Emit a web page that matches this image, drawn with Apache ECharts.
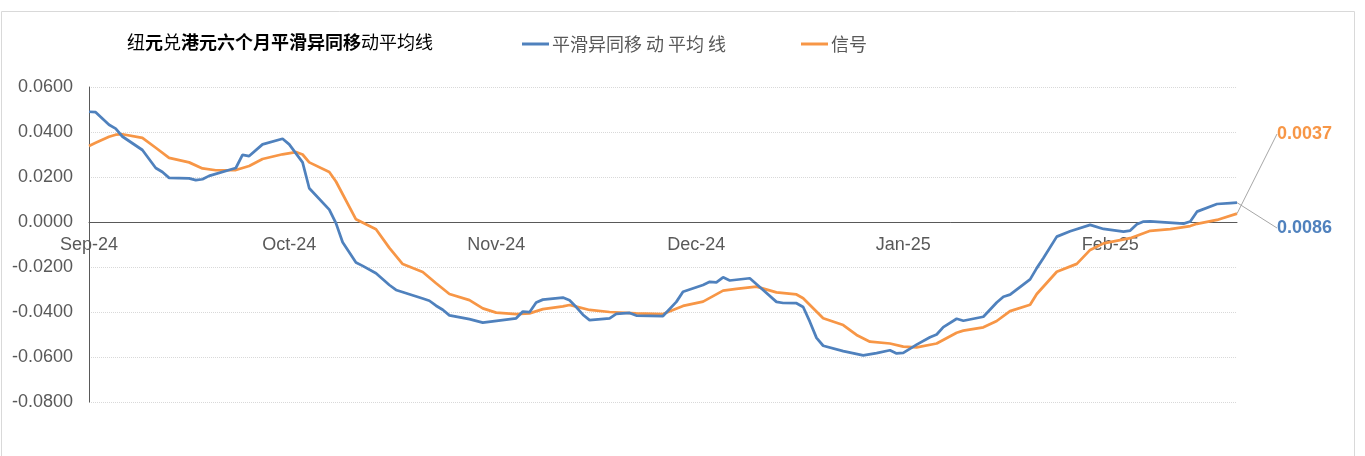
<!DOCTYPE html>
<html>
<head>
<meta charset="utf-8">
<script src="https://cdn.jsdelivr.net/npm/echarts@6/dist/echarts.min.js"></script>
<style>
html, body { margin: 0; padding: 0; background: #fff; }
#main { width: 1365px; height: 456px; }
</style>
</head>
<body>
<div id="main"></div>
<script>
let monthNames = ['Jan', 'Feb', 'Mar', 'Apr', 'May', 'Jun', 'Jul', 'Aug', 'Sep', 'Oct', 'Nov', 'Dec'];
let yTicks = [-0.08, -0.06, -0.04, -0.02, 0, 0.02, 0.04, 0.06];

// 平滑异同移动平均线 (blue)
let macdDates = [
	'2024-09-01', '2024-09-02', '2024-09-04', '2024-09-05', '2024-09-06', '2024-09-09', '2024-09-11', '2024-09-12',
	'2024-09-13', '2024-09-16', '2024-09-17', '2024-09-18', '2024-09-19', '2024-09-23', '2024-09-24', '2024-09-25',
	'2024-09-27', '2024-09-30', '2024-10-01', '2024-10-03', '2024-10-04', '2024-10-07', '2024-10-08', '2024-10-09',
	'2024-10-11', '2024-10-12', '2024-10-14', '2024-10-16', '2024-10-17', '2024-10-21', '2024-10-22', '2024-10-23',
	'2024-10-24', '2024-10-25', '2024-10-28', '2024-10-30', '2024-11-04', '2024-11-05', '2024-11-06', '2024-11-07',
	'2024-11-08', '2024-11-11', '2024-11-12', '2024-11-13', '2024-11-14', '2024-11-15', '2024-11-18', '2024-11-19',
	'2024-11-21', '2024-11-22', '2024-11-26', '2024-11-28', '2024-11-29', '2024-12-02', '2024-12-03', '2024-12-04',
	'2024-12-05', '2024-12-06', '2024-12-09', '2024-12-11', '2024-12-13', '2024-12-14', '2024-12-16', '2024-12-17',
	'2024-12-18', '2024-12-19', '2024-12-20', '2024-12-23', '2024-12-26', '2024-12-28', '2024-12-30', '2024-12-31',
	'2025-01-01', '2025-01-03', '2025-01-05', '2025-01-06', '2025-01-07', '2025-01-09', '2025-01-10', '2025-01-13',
	'2025-01-15', '2025-01-16', '2025-01-17', '2025-01-20', '2025-01-21', '2025-01-22', '2025-01-24', '2025-01-26',
	'2025-01-29', '2025-01-31', '2025-02-03', '2025-02-04', '2025-02-05', '2025-02-06', '2025-02-07', '2025-02-12',
	'2025-02-13', '2025-02-14', '2025-02-17', '2025-02-19', '2025-02-20'
];
let macdValues = [
	0.0490, 0.0488, 0.0432, 0.0415, 0.0380, 0.0320, 0.0240, 0.0222,
	0.0196, 0.0194, 0.0186, 0.0190, 0.0205, 0.0240, 0.0298, 0.0293,
	0.0345, 0.0370, 0.0345, 0.0265, 0.0150, 0.0055, -0.0005, -0.0090,
	-0.0180, -0.0195, -0.0228, -0.0280, -0.0302, -0.0340, -0.0350, -0.0372,
	-0.0390, -0.0415, -0.0432, -0.0447, -0.0428, -0.0398, -0.0401, -0.0358,
	-0.0345, -0.0336, -0.0348, -0.0378, -0.0412, -0.0436, -0.0428, -0.0408,
	-0.0404, -0.0416, -0.0418, -0.0355, -0.0310, -0.0280, -0.0266, -0.0268,
	-0.0246, -0.0260, -0.0250, -0.0302, -0.0355, -0.0360, -0.0361, -0.0378,
	-0.0443, -0.0515, -0.0550, -0.0574, -0.0593, -0.0583, -0.0570, -0.0584,
	-0.0582, -0.0545, -0.0512, -0.0500, -0.0467, -0.0430, -0.0439, -0.0421,
	-0.0358, -0.0332, -0.0323, -0.0255, -0.0205, -0.0160, -0.0065, -0.0041,
	-0.0013, -0.0031, -0.0043, -0.0038, -0.0010, 0.0002, 0.0003, -0.0007,
	0.0002, 0.0046, 0.0080, 0.0084, 0.0086
];

// 信号 (orange)
let signalDates = [
	'2024-09-01', '2024-09-02', '2024-09-04', '2024-09-05', '2024-09-06', '2024-09-09', '2024-09-11', '2024-09-13',
	'2024-09-16', '2024-09-18', '2024-09-20', '2024-09-23', '2024-09-25', '2024-09-27', '2024-09-30', '2024-10-02',
	'2024-10-03', '2024-10-04', '2024-10-07', '2024-10-08', '2024-10-11', '2024-10-14', '2024-10-16', '2024-10-18',
	'2024-10-21', '2024-10-23', '2024-10-25', '2024-10-28', '2024-10-30', '2024-11-01', '2024-11-04', '2024-11-06',
	'2024-11-08', '2024-11-11', '2024-11-12', '2024-11-13', '2024-11-15', '2024-11-18', '2024-11-22', '2024-11-26',
	'2024-11-29', '2024-12-02', '2024-12-05', '2024-12-07', '2024-12-10', '2024-12-13', '2024-12-16', '2024-12-17',
	'2024-12-20', '2024-12-23', '2024-12-25', '2024-12-27', '2024-12-30', '2025-01-01', '2025-01-03', '2025-01-06',
	'2025-01-09', '2025-01-10', '2025-01-13', '2025-01-15', '2025-01-17', '2025-01-20', '2025-01-21', '2025-01-24',
	'2025-01-27', '2025-01-29', '2025-01-31', '2025-02-04', '2025-02-07', '2025-02-10', '2025-02-13', '2025-02-14',
	'2025-02-17', '2025-02-20'
];
let signalValues = [
	0.0338, 0.0352, 0.0379, 0.0388, 0.0390, 0.0374, 0.0330, 0.0285,
	0.0265, 0.0238, 0.0230, 0.0231, 0.0249, 0.0280, 0.0301, 0.0311,
	0.0300, 0.0265, 0.0222, 0.0180, 0.0012, -0.0032, -0.0115, -0.0187,
	-0.0222, -0.0272, -0.0320, -0.0347, -0.0384, -0.0403, -0.0409, -0.0406,
	-0.0387, -0.0375, -0.0369, -0.0376, -0.0391, -0.0400, -0.0406, -0.0409,
	-0.0373, -0.0354, -0.0305, -0.0297, -0.0287, -0.0313, -0.0322, -0.0339,
	-0.0428, -0.0458, -0.0502, -0.0532, -0.0540, -0.0554, -0.0557, -0.0540,
	-0.0492, -0.0483, -0.0468, -0.0440, -0.0396, -0.0368, -0.0320, -0.0221,
	-0.0186, -0.0124, -0.0095, -0.0072, -0.0039, -0.0032, -0.0018, -0.0008,
	0.0009, 0.0037
];

let blue = '#4f81bd';
let orange = '#f79646';
let font = "'Liberation Sans', 'Noto Sans CJK SC', sans-serif";

function buildData(dates, values) {
	let out = [];
	for (let i = 0; i < dates.length; i++) {
		let item = { value: [dates[i], values[i]] };
		if (i === dates.length - 1) {
			item.label = { show: true };
		}
		out.push(item);
	}
	return out;
}

let chartDom = document.getElementById('main');
let myChart = echarts.init(chartDom, null, { renderer: 'canvas' });

let legendText = { fontFamily: 'Noto Sans CJK SC', fontSize: 18, color: '#595959', padding: [0, 0, 0, -2] };

let option = {
	animation: false,
	textStyle: { fontFamily: font },
	title: {
		text: '{n|纽}{b|元}{n|兑}{b|港元六个月平滑异同移}{n|动平均线}',
		left: 127,
		top: 33,
		padding: 0,
		textStyle: {
			rich: {
				n: { fontFamily: 'Noto Sans CJK SC', fontSize: 18, fontWeight: 'normal', color: '#000' },
				b: { fontFamily: 'Noto Sans CJK SC', fontSize: 18, fontWeight: 'bold', color: '#000' }
			}
		}
	},
	legend: [{
		data: ['平滑异同移 动 平均 线'],
		left: 522,
		top: 35,
		padding: 0,
		icon: 'rect',
		itemWidth: 27,
		itemHeight: 3,
		textStyle: legendText
	}, {
		data: ['信号'],
		left: 801,
		top: 35,
		padding: 0,
		icon: 'rect',
		itemWidth: 27,
		itemHeight: 3,
		textStyle: legendText
	}],
	graphic: [{
		type: 'rect',
		shape: { x: 1.5, y: 11.5, width: 1353, height: 470 },
		style: { fill: 'none', stroke: '#d9d9d9', lineWidth: 1 },
		silent: true
	}],
	grid: {
		left: 89,
		right: 128,
		top: 87,
		bottom: 54,
		containLabel: false
	},
	xAxis: {
		type: 'time',
		min: '2024-09-01',
		max: '2025-02-20',
		splitNumber: 6,
		minInterval: 28 * 86400000,
		maxInterval: 31 * 86400000,
		axisLine: { onZero: true, lineStyle: { color: '#595959', width: 1 } },
		axisTick: { show: false },
		splitLine: { show: false },
		axisLabel: {
			color: '#595959',
			fontSize: 18,
			fontFamily: 'Liberation Sans',
			// labels sit just under the zero line, as in the source chart
			margin: -166,
			showMinLabel: true,
			formatter: function (v) {
				let d = new Date(v);
				if (d.getDate() !== 1) return '';
				return monthNames[d.getMonth()] + '-' + String(d.getFullYear()).slice(2);
			}
		}
	},
	yAxis: {
		type: 'value',
		min: yTicks[0],
		max: yTicks[yTicks.length - 1],
		interval: 0.02,
		axisLine: { show: true, lineStyle: { color: '#595959', width: 1 } },
		axisTick: { show: false },
		splitLine: { show: true, lineStyle: { color: '#d9d9d9', type: 'dotted', width: 1 } },
		axisLabel: {
			color: '#595959',
			fontSize: 18,
			fontFamily: 'Liberation Sans',
			margin: 16,
			formatter: function (v) { return v.toFixed(4); }
		}
	},
	series: [{
		name: '平滑异同移 动 平均 线',
		type: 'line',
		data: buildData(macdDates, macdValues),
		symbol: 'circle',
		symbolSize: 0,
		showSymbol: true,
		lineStyle: { color: blue, width: 2.75 },
		itemStyle: { color: blue },
		z: 3,
		label: {
			show: false,
			fontFamily: 'Liberation Sans',
			fontSize: 18,
			fontWeight: 'bold',
			color: blue,
			padding: [0, 0, 0, 6],
			formatter: function (p) { return p.value[1].toFixed(4); }
		},
		labelLine: { show: true, length2: 6, lineStyle: { color: '#a6a6a6', width: 1 } },
		labelLayout: { x: 1271, y: 228, align: 'left', verticalAlign: 'middle' }
	}, {
		name: '信号',
		type: 'line',
		data: buildData(signalDates, signalValues),
		symbol: 'circle',
		symbolSize: 0,
		showSymbol: true,
		lineStyle: { color: orange, width: 2.75 },
		itemStyle: { color: orange },
		z: 2,
		label: {
			show: false,
			fontFamily: 'Liberation Sans',
			fontSize: 18,
			fontWeight: 'bold',
			color: orange,
			padding: [0, 0, 0, 6],
			formatter: function (p) { return p.value[1].toFixed(4); }
		},
		labelLine: { show: true, length2: 6, lineStyle: { color: '#a6a6a6', width: 1 } },
		labelLayout: { x: 1271, y: 134, align: 'left', verticalAlign: 'middle' }
	}]
};

myChart.setOption(option);
</script>
</body>
</html>
